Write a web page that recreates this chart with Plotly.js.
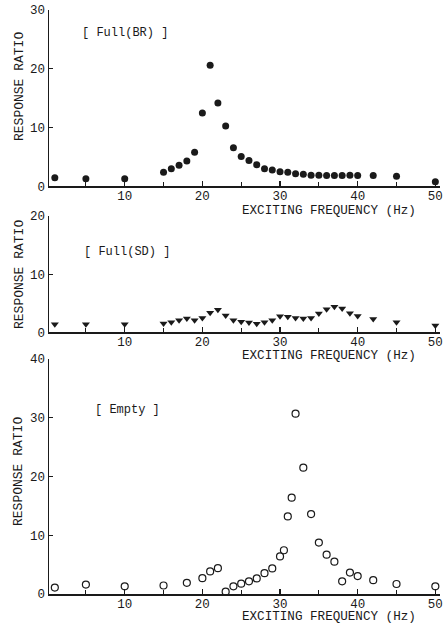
<!DOCTYPE html>
<html>
<head>
<meta charset="utf-8">
<script src="https://cdn.plot.ly/plotly-3.0.1.min.js"></script>
<style>html,body{margin:0;padding:0;background:#fff;}#chart{width:448px;height:628px;}</style>
</head>
<body>
<div id="chart"></div>
<script>
// ---- Data ----
const brFreq = [1,5,10,15,16,17,18,19,20,21,22,23,24,25,26,27,28,29,30,31,32,33,34,35,36,37,38,39,40,42,45,50];
const brRatio = [1.5,1.3,1.3,2.4,3.0,3.6,4.35,5.8,12.5,20.6,14.2,10.3,6.6,5.1,4.4,3.7,3.0,2.8,2.5,2.4,2.15,2.1,1.9,1.9,1.85,1.85,1.85,1.9,1.85,1.85,1.75,0.8];

const sdFreq = [1,5,10,15,16,17,18,19,20,21,22,23,24,25,26,27,28,29,30,31,32,33,34,35,36,37,38,39,40,42,45,50];
const sdRatio = [1.4,1.4,1.4,1.55,1.75,2.1,2.4,2.1,2.5,3.4,3.9,2.9,2.1,1.85,1.7,1.5,1.75,2.1,2.8,2.7,2.5,2.4,2.5,3.25,4.0,4.4,4.1,3.3,2.85,2.3,1.75,1.2];

const emFreq = [1,5,10,15,18,20,21,22,23,24,25,26,27,28,29,30,30.5,31,31.5,32,33,34,35,36,37,38,39,40,42,45,50];
const emRatio = [1.1,1.6,1.3,1.45,1.9,2.7,3.85,4.4,0.4,1.3,1.75,2.15,2.65,3.55,4.35,6.4,7.45,13.2,16.4,30.7,21.5,13.6,8.75,6.7,5.5,2.15,3.65,3.05,2.35,1.7,1.3];

const panelLabels = ["[ Full(BR) ]", "[ Full(SD) ]", "[ Empty ]"];
const xTitle = "EXCITING FREQUENCY (Hz)";
const yTitle = "RESPONSE RATIO";

const FONT = "Liberation Mono, Courier New, monospace";
const INK = "#1a1a1a";

const traces = [
  {x: brFreq, y: brRatio, xaxis: "x", yaxis: "y", mode: "markers", type: "scatter",
   marker: {symbol: "circle", size: 7, color: INK}},
  {x: sdFreq, y: sdRatio, xaxis: "x2", yaxis: "y2", mode: "markers", type: "scatter",
   marker: {symbol: "triangle-down", size: 7, color: INK}},
  {x: emFreq, y: emRatio, xaxis: "x3", yaxis: "y3", mode: "markers", type: "scatter",
   marker: {symbol: "circle-open", size: 7, color: INK, line: {width: 1.2, color: INK}}}
];

function xax(anchor) {
  return {
    anchor: anchor, domain: [0, 1], range: [0.25, 50.6],
    showline: true, linecolor: INK, linewidth: 1.5, mirror: false,
    showgrid: false, zeroline: false,
    ticks: "inside", ticklen: 5, tickwidth: 1.2, tickcolor: INK,
    tick0: 0, dtick: 10, ticklabelstandoff: -3,
    minor: {dtick: 5, ticks: "inside", ticklen: 4, tickwidth: 1.2, tickcolor: INK, showgrid: false},
    tickfont: {family: FONT, size: 12.5, color: INK}
  };
}
function yax(anchor, domain, max) {
  return {
    anchor: anchor, domain: domain, range: [0, max],
    showline: true, linecolor: INK, linewidth: 1.5,
    showgrid: false, zeroline: false,
    ticks: "inside", ticklen: 4, tickwidth: 1.2, tickcolor: INK,
    tick0: 0, dtick: 10,
    tickfont: {family: FONT, size: 12.5, color: INK}
  };
}

const B = 594, H = 584, L = 49, W = 391;
const ann = [];
const labelPos = [[125, 33], [127, 252], [127, 410]];
panelLabels.forEach((t, i) => {
  ann.push({text: t, xref: "paper", yref: "paper",
    x: (labelPos[i][0] - L) / W, y: (B - labelPos[i][1]) / H,
    showarrow: false, xanchor: "center", yanchor: "middle",
    font: {family: FONT, size: 12, color: INK}});
});
[210.5, 355.5, 617].forEach(py => {
  ann.push({text: xTitle, xref: "paper", yref: "paper",
    x: (418 - L) / W, y: (B - py) / H,
    showarrow: false, xanchor: "right", yanchor: "middle",
    font: {family: FONT, size: 12.6, color: INK}});
});
[87, 275, 472].forEach(py => {
  ann.push({text: yTitle, xref: "paper", yref: "paper", textangle: -90,
    x: (19 - L) / W, y: (B - py) / H,
    showarrow: false, xanchor: "center", yanchor: "middle",
    font: {family: FONT, size: 13, color: INK}});
});

const layout = {
  width: 448, height: 628,
  margin: {l: L, r: 8, t: 10, b: 34},
  paper_bgcolor: "#fff", plot_bgcolor: "#fff",
  showlegend: false,
  xaxis: xax("y"), yaxis: yax("x", [0.6978, 1], 30),
  xaxis2: xax("y2"), yaxis2: yax("x2", [0.4478, 0.6473], 20),
  xaxis3: xax("y3"), yaxis3: yax("x3", [0, 0.4024], 40),
  annotations: ann
};

Plotly.newPlot("chart", traces, layout, {displayModeBar: false, staticPlot: true});
</script>
</body>
</html>
